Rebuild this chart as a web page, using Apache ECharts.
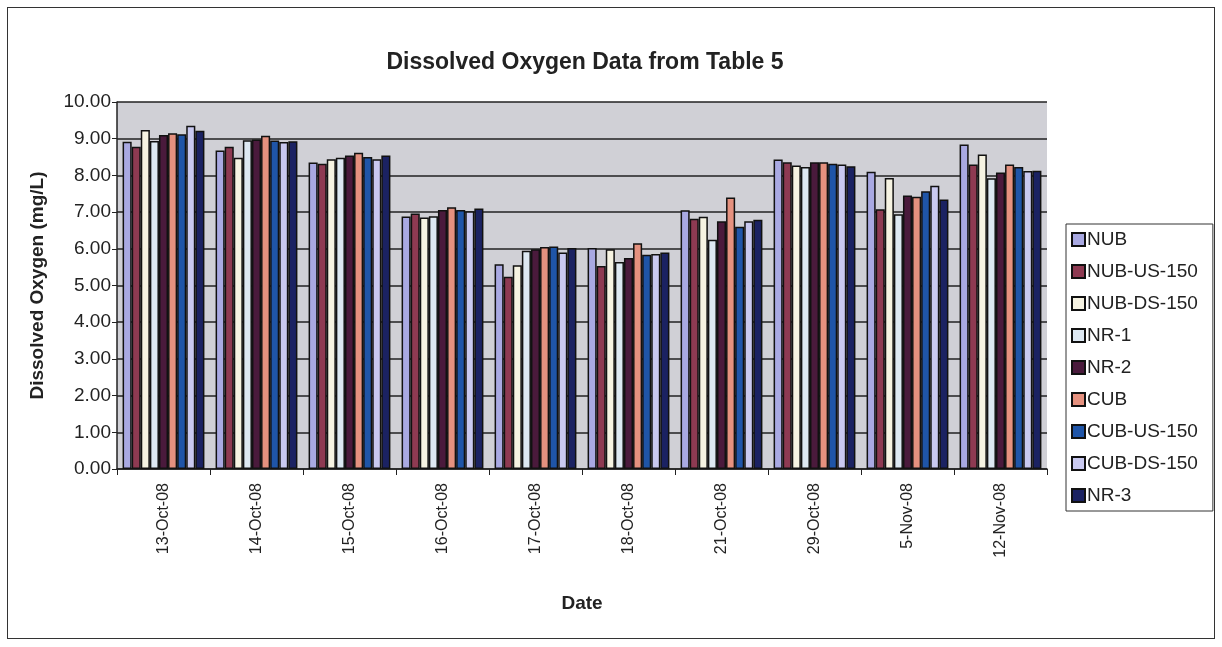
<!DOCTYPE html>
<html>
<head>
<meta charset="utf-8">
<script src="https://cdn.jsdelivr.net/npm/echarts@6/dist/echarts.min.js"></script>
<style>
html,body{margin:0;padding:0;background:#fff;}
#frame{position:absolute;left:7px;top:7px;width:1208px;height:632px;border:1px solid #333;box-sizing:border-box;}
#chart{position:absolute;left:0;top:0;width:1222px;height:647px;}
</style>
</head>
<body>
<div id="frame"></div>
<div id="chart"></div>
<script>
const categories = ['13-Oct-08','14-Oct-08','15-Oct-08','16-Oct-08','17-Oct-08','18-Oct-08','21-Oct-08','29-Oct-08','5-Nov-08','12-Nov-08'];
const seriesNames = ['NUB','NUB-US-150','NUB-DS-150','NR-1','NR-2','CUB','CUB-US-150','CUB-DS-150','NR-3'];
const NUB        = [8.92, 8.68, 8.35, 6.88, 5.58, 6.02, 7.05, 8.43, 8.10, 8.84];
const NUB_US_150 = [8.78, 8.78, 8.32, 6.96, 5.24, 5.53, 6.82, 8.36, 7.08, 8.30];
const NUB_DS_150 = [9.24, 8.48, 8.44, 6.85, 5.55, 5.99, 6.87, 8.27, 7.93, 8.57];
const NR_1       = [8.94, 8.96, 8.48, 6.89, 5.95, 5.64, 6.25, 8.23, 6.94, 7.92];
const NR_2       = [9.10, 8.98, 8.54, 7.06, 5.99, 5.75, 6.75, 8.36, 7.45, 8.08];
const CUB        = [9.15, 9.08, 8.62, 7.13, 6.05, 6.15, 7.40, 8.36, 7.42, 8.30];
const CUB_US_150 = [9.12, 8.95, 8.50, 7.06, 6.06, 5.84, 6.60, 8.32, 7.57, 8.23];
const CUB_DS_150 = [9.35, 8.91, 8.44, 7.02, 5.90, 5.86, 6.75, 8.30, 7.72, 8.12];
const NR_3       = [9.22, 8.93, 8.54, 7.10, 6.02, 5.90, 6.79, 8.25, 7.34, 8.13];
const yTicks = ['0.00','1.00','2.00','3.00','4.00','5.00','6.00','7.00','8.00','9.00','10.00'];

const seriesData = [NUB, NUB_US_150, NUB_DS_150, NR_1, NR_2, CUB, CUB_US_150, CUB_DS_150, NR_3];
const colors = ['#a9a9e2','#8e3a52','#f6f3e2','#dde8f2','#4a1a3c','#e5917f','#1f55a8','#c9c9f0','#1b2262'];

const chart = echarts.init(document.getElementById('chart'), null, {renderer:'canvas'});
chart.setOption({
  animation:false,
  backgroundColor:'transparent',
  color: colors,
  title:{
    text:'Dissolved Oxygen Data from Table 5',
    left:580, top:46, textAlign:'center',
    textStyle:{fontFamily:'Liberation Sans, Arial', fontWeight:'bold', fontSize:23, color:'#222'}
  },
  legend:{
    orient:'vertical',
    left:1066, top:224,
    padding:[6,15,6,5],
    itemWidth:13, itemHeight:13, itemGap:13,
    borderColor:'#333', borderWidth:1,
    icon:'rect',
    data: seriesNames,
    itemStyle:{borderColor:'#111', borderWidth:2},
    textStyle:{fontFamily:'Liberation Sans, Arial', fontSize:19, lineHeight:18, color:'#222', padding:[0,0,0,-3]}
  },
  grid:{left:117, right:175, top:102, bottom:178, containLabel:false,
        show:true, backgroundColor:'#d0d0d6', borderWidth:0},
  xAxis:{
    type:'category',
    data: categories,
    name:'Date', nameLocation:'middle', nameGap:125,
    nameTextStyle:{fontFamily:'Liberation Sans, Arial', fontWeight:'bold', fontSize:19, color:'#222'},
    axisLine:{show:true, lineStyle:{color:'#222', width:1.5}},
    axisTick:{show:true, length:6, lineStyle:{color:'#222'}},
    axisLabel:{rotate:90, fontFamily:'Liberation Sans, Arial', fontSize:16, color:'#222', margin:14}
  },
  yAxis:{
    type:'value', min:0, max:10, interval:1,
    name:'Dissolved Oxygen (mg/L)', nameLocation:'middle', nameGap:70,
    nameTextStyle:{fontFamily:'Liberation Sans, Arial', fontWeight:'bold', fontSize:19, color:'#222'},
    axisLine:{show:true, lineStyle:{color:'#222', width:1.5}},
    axisTick:{show:true, inside:false, length:5, lineStyle:{color:'#222'}},
    axisLabel:{fontFamily:'Liberation Sans, Arial', fontSize:19, color:'#222', margin:6,
      formatter:(v)=>yTicks[Math.round(v)]},
    splitLine:{show:true, lineStyle:{color:'#222', width:1.5}}
  },
  series: seriesNames.map((n,i)=>({
    name:n, type:'bar', data:seriesData[i],
    barGap:'0%', barCategoryGap:'12%',
    itemStyle:{color:colors[i], borderColor:'#111', borderWidth:1.5}
  }))
});
</script>
</body>
</html>
